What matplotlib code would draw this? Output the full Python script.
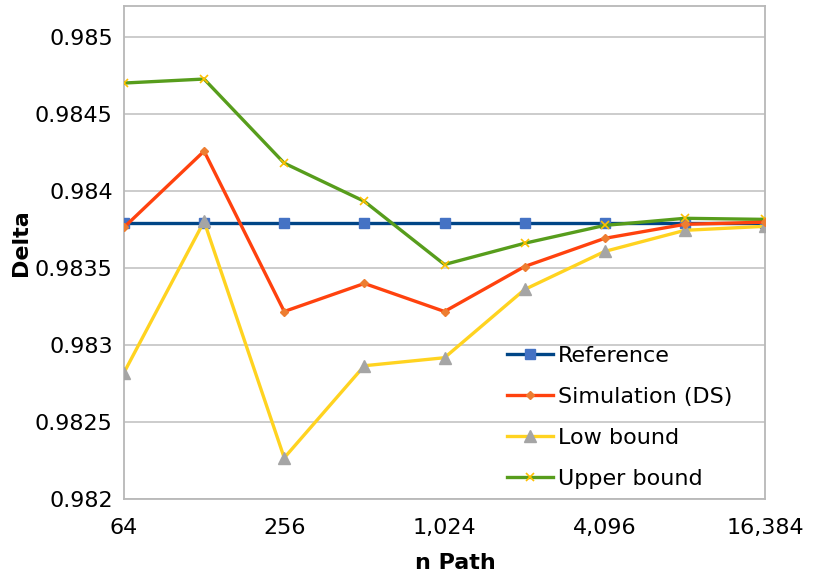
import numpy as np
import matplotlib
matplotlib.use("Agg")
import matplotlib.pyplot as plt
from matplotlib.ticker import FixedLocator, FuncFormatter

# number of paths (log2 axis)
n_path = [64, 128, 256, 512, 1024, 2048, 4096, 8192, 16384]

reference = [0.98379] * 9
simulation = [0.983763, 0.984258, 0.983217, 0.983399, 0.983217,
              0.983509, 0.983692, 0.983783, 0.983797]
low_bound = [0.98282, 0.983802, 0.982267, 0.982865, 0.982917,
             0.98336, 0.983607, 0.983744, 0.98377]
upper_bound = [0.9847, 0.984726, 0.98418, 0.983932, 0.983522,
               0.98366, 0.983776, 0.983822, 0.983815]

x_ticks = [64, 256, 1024, 4096, 16384]
y_ticks = [0.982, 0.9825, 0.983, 0.9835, 0.984, 0.9845, 0.985]

plt.rcParams['font.family'] = ['DejaVu Sans']

fig = plt.figure(figsize=(8.15, 5.79), dpi=100)
ax = fig.add_axes([0.1521, 0.1382, 0.7866, 0.8514])

ax.plot(n_path, reference, color='#004586', lw=2.4, marker='s', ms=7,
        mfc='#4472c4', mec='#4472c4', label='Reference', zorder=3)
ax.plot(n_path, simulation, color='#ff420e', lw=2.4, marker='D', ms=4.5,
        mfc='#ed7d31', mec='#ed7d31', label='Simulation (DS)', zorder=4)
ax.plot(n_path, low_bound, color='#ffd320', lw=2.4, marker='^', ms=9,
        mfc='#a5a5a5', mec='#a5a5a5', label='Low bound', zorder=3)
ax.plot(n_path, upper_bound, color='#579d1c', lw=2.4, marker='x', ms=6,
        mew=1.2, mec='#ffc000', label='Upper bound', zorder=3)

ax.set_xscale('log', base=2)
ax.set_xlim(64, 16384)
ax.set_ylim(0.982, 0.98520)
ax.xaxis.set_major_locator(FixedLocator(x_ticks))
ax.xaxis.set_minor_locator(FixedLocator([]))
ax.xaxis.set_major_formatter(FuncFormatter(lambda v, p: f'{int(round(v)):,}'))
ax.set_yticks(y_ticks)
ax.yaxis.set_major_formatter(FuncFormatter(lambda v, p: f'{v:g}'))

ax.grid(axis='y', color='#c8c8c8', lw=1.3)
ax.set_axisbelow(True)
for sp in ax.spines.values():
    sp.set_color('#b8b8b8')
    sp.set_linewidth(1.3)
ax.tick_params(length=0, labelsize=16, colors='black')
ax.tick_params(axis='x', pad=14)
ax.tick_params(axis='y', pad=8)

ax.set_xlabel('n Path', fontsize=16, fontweight='bold')
ax.set_ylabel('Delta', fontsize=16, fontweight='bold')
ax.xaxis.set_label_coords(0.517, -0.11)
ax.yaxis.set_label_coords(-0.145, 0.52)

ax.legend(loc='lower left', bbox_to_anchor=(0.597, 0.02), frameon=False,
          fontsize=16, handlelength=2.1, handletextpad=0.2,
          labelspacing=0.95, borderaxespad=0, borderpad=0)

fig.savefig('out.png', dpi=100)
